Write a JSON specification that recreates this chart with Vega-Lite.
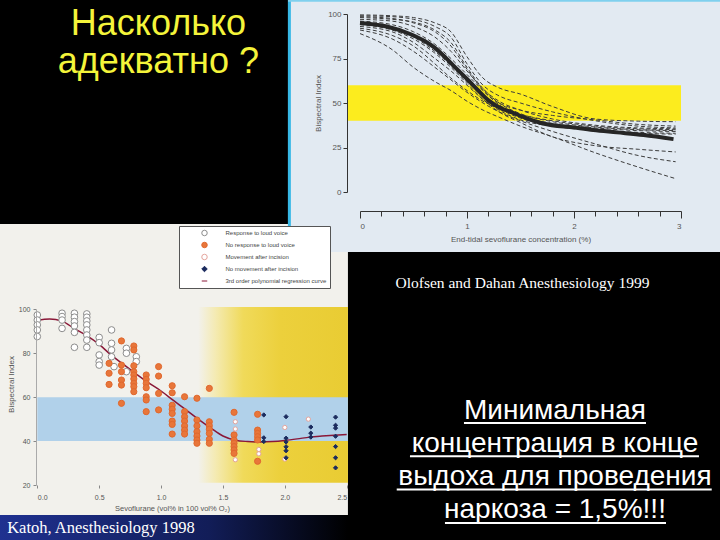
{
  "$schema": "https://vega.github.io/schema/vega-lite/v6.json",
  "width": 720,
  "height": 540,
  "autosize": {"type": "none"},
  "padding": 0,
  "background": "#000000",
  "config": {
    "view": {"stroke": null},
    "axis": {"labelFont": "Liberation Sans", "titleFont": "Liberation Sans", "grid": false, "titleFontWeight": "normal"}
  },
  "datasets": {
    "katoh_pts": [
      {"g": "Response to loud voice", "x": 0, "y": 97.4}, {"g": "Response to loud voice", "x": 0, "y": 95.1}, {"g": "Response to loud voice", "x": 0, "y": 92.9}, {"g": "Response to loud voice", "x": 0, "y": 90.6}, {"g": "Response to loud voice", "x": 0, "y": 87.6},
      {"g": "Response to loud voice", "x": 0.2, "y": 98.2}, {"g": "Response to loud voice", "x": 0.2, "y": 96.7}, {"g": "Response to loud voice", "x": 0.2, "y": 95.1}, {"g": "Response to loud voice", "x": 0.2, "y": 91.3},
      {"g": "Response to loud voice", "x": 0.3, "y": 98.2}, {"g": "Response to loud voice", "x": 0.3, "y": 96.4}, {"g": "Response to loud voice", "x": 0.3, "y": 94.4}, {"g": "Response to loud voice", "x": 0.3, "y": 92.4}, {"g": "Response to loud voice", "x": 0.3, "y": 89.5}, {"g": "Response to loud voice", "x": 0.3, "y": 82.7},
      {"g": "Response to loud voice", "x": 0.4, "y": 97.9}, {"g": "Response to loud voice", "x": 0.4, "y": 96.4}, {"g": "Response to loud voice", "x": 0.4, "y": 94.7}, {"g": "Response to loud voice", "x": 0.4, "y": 92.9}, {"g": "Response to loud voice", "x": 0.4, "y": 90.6}, {"g": "Response to loud voice", "x": 0.4, "y": 88.3}, {"g": "Response to loud voice", "x": 0.4, "y": 86.0}, {"g": "Response to loud voice", "x": 0.4, "y": 82.7},
      {"g": "Response to loud voice", "x": 0.5, "y": 87.2}, {"g": "Response to loud voice", "x": 0.5, "y": 84.8}, {"g": "Response to loud voice", "x": 0.5, "y": 79.2}, {"g": "Response to loud voice", "x": 0.5, "y": 76.2}, {"g": "Response to loud voice", "x": 0.5, "y": 74.6},
      {"g": "Response to loud voice", "x": 0.6, "y": 90.6}, {"g": "Response to loud voice", "x": 0.6, "y": 84.5}, {"g": "Response to loud voice", "x": 0.6, "y": 81.5}, {"g": "Response to loud voice", "x": 0.6, "y": 78.4}, {"g": "Response to loud voice", "x": 0.62, "y": 73.9},
      {"g": "Response to loud voice", "x": 0.72, "y": 82.2}, {"g": "Response to loud voice", "x": 0.72, "y": 80}, {"g": "Response to loud voice", "x": 0.72, "y": 71.6},
      {"g": "Response to loud voice", "x": 0.8, "y": 78.4}, {"g": "Response to loud voice", "x": 0.8, "y": 76.2},
      {"g": "No response to loud voice", "x": 0.58, "y": 75.4}, {"g": "No response to loud voice", "x": 0.58, "y": 70.9}, {"g": "No response to loud voice", "x": 0.58, "y": 65.8},
      {"g": "No response to loud voice", "x": 0.68, "y": 85.6}, {"g": "No response to loud voice", "x": 0.68, "y": 74.6}, {"g": "No response to loud voice", "x": 0.68, "y": 71.6}, {"g": "No response to loud voice", "x": 0.68, "y": 67.8}, {"g": "No response to loud voice", "x": 0.68, "y": 65.5}, {"g": "No response to loud voice", "x": 0.68, "y": 57.2},
      {"g": "No response to loud voice", "x": 0.78, "y": 83.3}, {"g": "No response to loud voice", "x": 0.78, "y": 81.5}, {"g": "No response to loud voice", "x": 0.78, "y": 74.3}, {"g": "No response to loud voice", "x": 0.78, "y": 71.6}, {"g": "No response to loud voice", "x": 0.78, "y": 70.1}, {"g": "No response to loud voice", "x": 0.78, "y": 68.3}, {"g": "No response to loud voice", "x": 0.78, "y": 66.3}, {"g": "No response to loud voice", "x": 0.78, "y": 64.8}, {"g": "No response to loud voice", "x": 0.78, "y": 62.5},
      {"g": "No response to loud voice", "x": 0.88, "y": 70.1}, {"g": "No response to loud voice", "x": 0.88, "y": 68.1}, {"g": "No response to loud voice", "x": 0.88, "y": 66.3}, {"g": "No response to loud voice", "x": 0.88, "y": 64.3}, {"g": "No response to loud voice", "x": 0.88, "y": 60.2}, {"g": "No response to loud voice", "x": 0.88, "y": 58.7}, {"g": "No response to loud voice", "x": 0.88, "y": 53.4},
      {"g": "No response to loud voice", "x": 0.98, "y": 73.9}, {"g": "No response to loud voice", "x": 0.98, "y": 69.6}, {"g": "No response to loud voice", "x": 0.98, "y": 61.7}, {"g": "No response to loud voice", "x": 0.98, "y": 54.2},
      {"g": "No response to loud voice", "x": 1.09, "y": 65.2}, {"g": "No response to loud voice", "x": 1.09, "y": 62.0}, {"g": "No response to loud voice", "x": 1.09, "y": 56.3}, {"g": "No response to loud voice", "x": 1.09, "y": 54.5}, {"g": "No response to loud voice", "x": 1.09, "y": 52.6}, {"g": "No response to loud voice", "x": 1.09, "y": 49.1}, {"g": "No response to loud voice", "x": 1.09, "y": 47.6}, {"g": "No response to loud voice", "x": 1.09, "y": 43.2},
      {"g": "No response to loud voice", "x": 1.19, "y": 60.2}, {"g": "No response to loud voice", "x": 1.19, "y": 53.4}, {"g": "No response to loud voice", "x": 1.19, "y": 51.1}, {"g": "No response to loud voice", "x": 1.19, "y": 49.1}, {"g": "No response to loud voice", "x": 1.19, "y": 46.9}, {"g": "No response to loud voice", "x": 1.19, "y": 45.0}, {"g": "No response to loud voice", "x": 1.19, "y": 43.2},
      {"g": "No response to loud voice", "x": 1.29, "y": 59.5}, {"g": "No response to loud voice", "x": 1.29, "y": 49.6}, {"g": "No response to loud voice", "x": 1.29, "y": 46.9}, {"g": "No response to loud voice", "x": 1.29, "y": 44.3}, {"g": "No response to loud voice", "x": 1.29, "y": 42.3}, {"g": "No response to loud voice", "x": 1.29, "y": 40.5}, {"g": "No response to loud voice", "x": 1.29, "y": 39.0},
      {"g": "No response to loud voice", "x": 1.39, "y": 64}, {"g": "No response to loud voice", "x": 1.39, "y": 48.8}, {"g": "No response to loud voice", "x": 1.39, "y": 47.0}, {"g": "No response to loud voice", "x": 1.39, "y": 45.4}, {"g": "No response to loud voice", "x": 1.39, "y": 43.5}, {"g": "No response to loud voice", "x": 1.39, "y": 40.8}, {"g": "No response to loud voice", "x": 1.39, "y": 39},
      {"g": "No response to loud voice", "x": 1.59, "y": 53.1}, {"g": "No response to loud voice", "x": 1.59, "y": 42.8}, {"g": "No response to loud voice", "x": 1.59, "y": 40.5}, {"g": "No response to loud voice", "x": 1.59, "y": 39}, {"g": "No response to loud voice", "x": 1.59, "y": 37.5}, {"g": "No response to loud voice", "x": 1.59, "y": 36.0}, {"g": "No response to loud voice", "x": 1.59, "y": 34.4},
      {"g": "No response to loud voice", "x": 1.78, "y": 52.2}, {"g": "No response to loud voice", "x": 1.78, "y": 45}, {"g": "No response to loud voice", "x": 1.78, "y": 43.5}, {"g": "No response to loud voice", "x": 1.78, "y": 42}, {"g": "No response to loud voice", "x": 1.78, "y": 40.5}, {"g": "No response to loud voice", "x": 1.78, "y": 30.8},
      {"g": "Movement after incision", "x": 1.6, "y": 48.8}, {"g": "Movement after incision", "x": 1.6, "y": 45.5}, {"g": "Movement after incision", "x": 1.6, "y": 31.5}, {"g": "Movement after incision", "x": 1.79, "y": 36.2}, {"g": "Movement after incision", "x": 1.79, "y": 34.2}, {"g": "Movement after incision", "x": 2.0, "y": 46.2}, {"g": "Movement after incision", "x": 2.0, "y": 31.8}, {"g": "Movement after incision", "x": 2.19, "y": 50.0},
      {"g": "No movement after incision", "x": 1.83, "y": 51.9}, {"g": "No movement after incision", "x": 1.83, "y": 41.5}, {"g": "No movement after incision", "x": 1.83, "y": 39.8},
      {"g": "No movement after incision", "x": 2.01, "y": 51.1}, {"g": "No movement after incision", "x": 2.01, "y": 41.3}, {"g": "No movement after incision", "x": 2.01, "y": 39.6}, {"g": "No movement after incision", "x": 2.01, "y": 37.4}, {"g": "No movement after incision", "x": 2.01, "y": 35.6}, {"g": "No movement after incision", "x": 2.01, "y": 32.4},
      {"g": "No movement after incision", "x": 2.21, "y": 46.4}, {"g": "No movement after incision", "x": 2.21, "y": 43.6}, {"g": "No movement after incision", "x": 2.21, "y": 41.8},
      {"g": "No movement after incision", "x": 2.41, "y": 50.9}, {"g": "No movement after incision", "x": 2.41, "y": 47.2}, {"g": "No movement after incision", "x": 2.41, "y": 45.9}, {"g": "No movement after incision", "x": 2.41, "y": 42.2}, {"g": "No movement after incision", "x": 2.41, "y": 37.5}, {"g": "No movement after incision", "x": 2.41, "y": 32.4}, {"g": "No movement after incision", "x": 2.41, "y": 27.8}
    ],
    "katoh_fit": [
      {"x": 0, "y": 95}, {"x": 0.1, "y": 95.6}, {"x": 0.2, "y": 94.6}, {"x": 0.3, "y": 91.2}, {"x": 0.4, "y": 88}, {"x": 0.5, "y": 84}, {"x": 0.6, "y": 79}, {"x": 0.7, "y": 74.8}, {"x": 0.8, "y": 70.5}, {"x": 0.9, "y": 66.5}, {"x": 1.0, "y": 62.8}, {"x": 1.1, "y": 58.5}, {"x": 1.2, "y": 54.3}, {"x": 1.3, "y": 50}, {"x": 1.4, "y": 46}, {"x": 1.5, "y": 42.3}, {"x": 1.6, "y": 40.4}, {"x": 1.7, "y": 39.8}, {"x": 1.8, "y": 39.6}, {"x": 1.9, "y": 39.8}, {"x": 2.0, "y": 40.3}, {"x": 2.1, "y": 41}, {"x": 2.2, "y": 41.8}, {"x": 2.3, "y": 42.3}, {"x": 2.4, "y": 42.7}, {"x": 2.5, "y": 43}
    ],
    "olof_mean": [
      {"x": 0, "y": 95}, {"x": 0.25, "y": 93}, {"x": 0.48, "y": 88.5}, {"x": 0.6, "y": 85}, {"x": 0.7, "y": 81}, {"x": 0.8, "y": 75.5}, {"x": 0.89, "y": 70}, {"x": 1.0, "y": 63.5}, {"x": 1.1, "y": 57.3}, {"x": 1.2, "y": 51.5}, {"x": 1.32, "y": 47}, {"x": 1.4, "y": 45.2}, {"x": 1.54, "y": 41.8}, {"x": 1.71, "y": 38.5}, {"x": 2.0, "y": 36.2}, {"x": 2.18, "y": 34.8}, {"x": 2.4, "y": 33.5}, {"x": 2.65, "y": 32}, {"x": 2.93, "y": 29.7}
    ],
    "olof_ind": [
      {"id": 1, "x": 0, "y": 99.5}, {"id": 1, "x": 0.3, "y": 99}, {"id": 1, "x": 0.5, "y": 98}, {"id": 1, "x": 0.7, "y": 95}, {"id": 1, "x": 0.85, "y": 90}, {"id": 1, "x": 1.0, "y": 76}, {"id": 1, "x": 1.15, "y": 64}, {"id": 1, "x": 1.3, "y": 58.5}, {"id": 1, "x": 1.5, "y": 55}, {"id": 1, "x": 1.8, "y": 48}, {"id": 1, "x": 2.2, "y": 41}, {"id": 1, "x": 2.6, "y": 39.8}, {"id": 1, "x": 2.95, "y": 39.5},
      {"id": 2, "x": 0, "y": 99}, {"id": 2, "x": 0.3, "y": 98.5}, {"id": 2, "x": 0.5, "y": 97}, {"id": 2, "x": 0.7, "y": 93}, {"id": 2, "x": 0.85, "y": 87}, {"id": 2, "x": 1.0, "y": 72}, {"id": 2, "x": 1.15, "y": 60}, {"id": 2, "x": 1.3, "y": 54}, {"id": 2, "x": 1.5, "y": 50}, {"id": 2, "x": 1.8, "y": 45}, {"id": 2, "x": 2.2, "y": 40}, {"id": 2, "x": 2.6, "y": 37}, {"id": 2, "x": 2.95, "y": 36},
      {"id": 3, "x": 0, "y": 98}, {"id": 3, "x": 0.3, "y": 97}, {"id": 3, "x": 0.5, "y": 95.5}, {"id": 3, "x": 0.7, "y": 91}, {"id": 3, "x": 0.85, "y": 84}, {"id": 3, "x": 1.0, "y": 70}, {"id": 3, "x": 1.15, "y": 58}, {"id": 3, "x": 1.3, "y": 51}, {"id": 3, "x": 1.5, "y": 46}, {"id": 3, "x": 1.8, "y": 41}, {"id": 3, "x": 2.2, "y": 37.5}, {"id": 3, "x": 2.6, "y": 36}, {"id": 3, "x": 2.95, "y": 35.5},
      {"id": 4, "x": 0, "y": 97}, {"id": 4, "x": 0.3, "y": 96}, {"id": 4, "x": 0.5, "y": 93}, {"id": 4, "x": 0.7, "y": 87}, {"id": 4, "x": 0.85, "y": 79}, {"id": 4, "x": 1.0, "y": 68}, {"id": 4, "x": 1.15, "y": 58}, {"id": 4, "x": 1.3, "y": 50}, {"id": 4, "x": 1.5, "y": 44}, {"id": 4, "x": 1.8, "y": 39.5}, {"id": 4, "x": 2.2, "y": 36.5}, {"id": 4, "x": 2.6, "y": 35}, {"id": 4, "x": 2.95, "y": 34.5},
      {"id": 5, "x": 0, "y": 96}, {"id": 5, "x": 0.3, "y": 94}, {"id": 5, "x": 0.5, "y": 90}, {"id": 5, "x": 0.7, "y": 83}, {"id": 5, "x": 0.85, "y": 75}, {"id": 5, "x": 1.0, "y": 66}, {"id": 5, "x": 1.15, "y": 57}, {"id": 5, "x": 1.3, "y": 49}, {"id": 5, "x": 1.5, "y": 43}, {"id": 5, "x": 1.8, "y": 38.5}, {"id": 5, "x": 2.2, "y": 36}, {"id": 5, "x": 2.6, "y": 34.5}, {"id": 5, "x": 2.95, "y": 34},
      {"id": 6, "x": 0, "y": 95}, {"id": 6, "x": 0.3, "y": 92}, {"id": 6, "x": 0.5, "y": 87}, {"id": 6, "x": 0.7, "y": 79}, {"id": 6, "x": 0.85, "y": 71}, {"id": 6, "x": 1.0, "y": 62}, {"id": 6, "x": 1.15, "y": 54}, {"id": 6, "x": 1.3, "y": 47}, {"id": 6, "x": 1.5, "y": 41.5}, {"id": 6, "x": 1.8, "y": 37.5}, {"id": 6, "x": 2.2, "y": 35}, {"id": 6, "x": 2.6, "y": 33.5}, {"id": 6, "x": 2.95, "y": 33},
      {"id": 7, "x": 0, "y": 93}, {"id": 7, "x": 0.3, "y": 90}, {"id": 7, "x": 0.5, "y": 84}, {"id": 7, "x": 0.7, "y": 75}, {"id": 7, "x": 0.85, "y": 68}, {"id": 7, "x": 1.0, "y": 60}, {"id": 7, "x": 1.15, "y": 52}, {"id": 7, "x": 1.3, "y": 46}, {"id": 7, "x": 1.5, "y": 40.5}, {"id": 7, "x": 1.8, "y": 37}, {"id": 7, "x": 2.2, "y": 34.5}, {"id": 7, "x": 2.6, "y": 33}, {"id": 7, "x": 2.95, "y": 32.5},
      {"id": 8, "x": 0, "y": 89}, {"id": 8, "x": 0.3, "y": 80}, {"id": 8, "x": 0.5, "y": 70}, {"id": 8, "x": 0.7, "y": 62}, {"id": 8, "x": 0.85, "y": 57}, {"id": 8, "x": 1.0, "y": 51}, {"id": 8, "x": 1.15, "y": 46}, {"id": 8, "x": 1.3, "y": 42}, {"id": 8, "x": 1.5, "y": 37}, {"id": 8, "x": 1.8, "y": 31}, {"id": 8, "x": 2.2, "y": 22}, {"id": 8, "x": 2.6, "y": 14}, {"id": 8, "x": 2.95, "y": 7.5},
      {"id": 9, "x": 0, "y": 91}, {"id": 9, "x": 0.3, "y": 86}, {"id": 9, "x": 0.5, "y": 79}, {"id": 9, "x": 0.7, "y": 70}, {"id": 9, "x": 0.85, "y": 63}, {"id": 9, "x": 1.0, "y": 56}, {"id": 9, "x": 1.15, "y": 50}, {"id": 9, "x": 1.3, "y": 45}, {"id": 9, "x": 1.5, "y": 40}, {"id": 9, "x": 1.8, "y": 34}, {"id": 9, "x": 2.2, "y": 27}, {"id": 9, "x": 2.6, "y": 20.5}, {"id": 9, "x": 2.95, "y": 17},
      {"id": 10, "x": 0, "y": 94}, {"id": 10, "x": 0.3, "y": 91}, {"id": 10, "x": 0.5, "y": 86}, {"id": 10, "x": 0.7, "y": 78}, {"id": 10, "x": 0.85, "y": 70}, {"id": 10, "x": 1.0, "y": 61}, {"id": 10, "x": 1.15, "y": 52}, {"id": 10, "x": 1.3, "y": 45}, {"id": 10, "x": 1.5, "y": 39}, {"id": 10, "x": 1.8, "y": 31}, {"id": 10, "x": 2.2, "y": 26}, {"id": 10, "x": 2.6, "y": 24}, {"id": 10, "x": 2.95, "y": 22.5},
      {"id": 11, "x": 0, "y": 98.5}, {"id": 11, "x": 0.3, "y": 97.5}, {"id": 11, "x": 0.5, "y": 95}, {"id": 11, "x": 0.7, "y": 90}, {"id": 11, "x": 0.85, "y": 82}, {"id": 11, "x": 1.0, "y": 69}, {"id": 11, "x": 1.15, "y": 57}, {"id": 11, "x": 1.3, "y": 50}, {"id": 11, "x": 1.5, "y": 46}, {"id": 11, "x": 1.8, "y": 43}, {"id": 11, "x": 2.2, "y": 40.5}, {"id": 11, "x": 2.6, "y": 38}, {"id": 11, "x": 2.95, "y": 37},
      {"id": 12, "x": 0, "y": 92}, {"id": 12, "x": 0.3, "y": 88}, {"id": 12, "x": 0.5, "y": 82}, {"id": 12, "x": 0.7, "y": 72}, {"id": 12, "x": 0.85, "y": 64}, {"id": 12, "x": 1.0, "y": 57}, {"id": 12, "x": 1.15, "y": 51}, {"id": 12, "x": 1.3, "y": 47}, {"id": 12, "x": 1.5, "y": 43.5}, {"id": 12, "x": 1.8, "y": 40}, {"id": 12, "x": 2.2, "y": 37}, {"id": 12, "x": 2.6, "y": 35.5}, {"id": 12, "x": 2.95, "y": 35}
    ]
  },
  "layer": [
    {
      "layer": [
        {
          "data": {"values": [{}]},
          "mark": {"type": "rect", "fill": "#f2f1ec"},
          "encoding": {
            "x": {"datum": -0.302, "type": "quantitative", "scale": {"domain": [0, 2.5], "range": [37.3, 346.7], "nice": false, "zero": false}},
            "x2": {"datum": 2.51},
            "y": {"datum": 138.8, "type": "quantitative", "scale": {"domain": [20, 100], "range": [485, 309.3], "nice": false, "zero": false}},
            "y2": {"datum": 6.34}
          }
        },
        {
          "data": {"values": [{}]},
          "mark": {"type": "rect", "fill": {"gradient": "linear", "x1": 0, "y1": 0, "x2": 1, "y2": 0, "stops": [{"offset": 0, "color": "#1f3190"}, {"offset": 0.6, "color": "#121d58"}, {"offset": 1, "color": "#000000"}]}},
          "encoding": {
            "x": {"datum": -0.302, "type": "quantitative"},
            "x2": {"datum": 2.51},
            "y": {"datum": 6.34, "type": "quantitative"},
            "y2": {"datum": -5.1}
          }
        },
        {
          "data": {"values": [{}]},
          "mark": {"type": "rect", "fill": {"gradient": "linear", "x1": 0, "y1": 0, "x2": 1, "y2": 0, "stops": [{"offset": 0, "color": "#f2f1ec"}, {"offset": 0.12, "color": "#f4eab0"}, {"offset": 0.3, "color": "#f0da5a"}, {"offset": 0.55, "color": "#ecd03c"}, {"offset": 1, "color": "#e9cc33"}]}},
          "encoding": {
            "x": {"datum": 1.3, "type": "quantitative"},
            "x2": {"datum": 2.51},
            "y": {"datum": 101, "type": "quantitative"},
            "y2": {"datum": 21}
          }
        },
        {
          "data": {"values": [{}]},
          "mark": {"type": "rect", "fill": "#b1d1ea"},
          "encoding": {
            "x": {"datum": 0, "type": "quantitative"},
            "x2": {"datum": 2.51},
            "y": {"datum": 60, "type": "quantitative"},
            "y2": {"datum": 40}
          }
        },
        {
          "data": {"name": "katoh_fit"},
          "mark": {"type": "line", "stroke": "#8a1838", "strokeWidth": 1.5, "interpolate": "monotone"},
          "encoding": {
            "x": {"field": "x", "type": "quantitative"},
            "y": {"field": "y", "type": "quantitative"}
          }
        },
        {
          "data": {"name": "katoh_pts"},
          "mark": {"type": "point", "strokeWidth": 1, "opacity": 1},
          "encoding": {
            "x": {"field": "x", "type": "quantitative", "axis": {"orient": "bottom", "offset": -55, "values": [0, 0.5, 1, 1.5, 2, 2.5], "format": ".1f", "domain": false, "tickSize": 3, "tickColor": "#888", "labelFontSize": 7, "labelColor": "#555", "labelPadding": 5, "title": "Sevoflurane (vol% in 100 vol% O₂)", "titleFontSize": 7.5, "titleColor": "#555", "titlePadding": 4, "titleX": 172, "zindex": 1}},
            "y": {"field": "y", "type": "quantitative", "axis": {"orient": "left", "offset": -36, "values": [20, 40, 60, 80, 100], "domainColor": "#aaaaaa", "tickSize": 3, "tickColor": "#888", "labelFontSize": 7, "labelColor": "#555", "labelPadding": 3, "title": "Bispectral Index", "titleFontSize": 8, "titleColor": "#555", "titlePadding": 3, "titleY": 384, "zindex": 1}},
            "shape": {"field": "g", "type": "nominal",
              "scale": {"domain": ["Response to loud voice", "No response to loud voice", "Movement after incision", "No movement after incision", "3rd order polynomial regression curve"], "range": ["circle", "circle", "circle", "diamond", "stroke"]},
              "legend": {"title": null, "orient": "none", "legendX": 179, "legendY": 226, "padding": 3, "fillColor": "#ffffff", "strokeColor": "#555555", "labelFontSize": 6, "labelColor": "#444", "labelFont": "Liberation Sans", "labelLimit": 250, "symbolSize": 30, "rowPadding": 4, "clipHeight": 8, "labelOffset": 17.5, "symbolOffset": 19, "symbolStrokeWidth": 1}},
            "fill": {"field": "g", "type": "nominal",
              "scale": {"domain": ["Response to loud voice", "No response to loud voice", "Movement after incision", "No movement after incision", "3rd order polynomial regression curve"], "range": ["#ffffff", "#e8763a", "#ffffff", "#1b2b5e", "transparent"]},
              "legend": {"title": null, "orient": "none", "legendX": 179, "legendY": 226, "padding": 3, "fillColor": "#ffffff", "strokeColor": "#555555", "labelFontSize": 6, "labelColor": "#444", "labelFont": "Liberation Sans", "labelLimit": 250, "symbolSize": 30, "rowPadding": 4, "clipHeight": 8, "labelOffset": 17.5, "symbolOffset": 19, "symbolStrokeWidth": 1}},
            "stroke": {"field": "g", "type": "nominal",
              "scale": {"domain": ["Response to loud voice", "No response to loud voice", "Movement after incision", "No movement after incision", "3rd order polynomial regression curve"], "range": ["#8c8c8c", "#e0682e", "#e4a49c", "#1b2b5e", "#8a1838"]},
              "legend": {"title": null, "orient": "none", "legendX": 179, "legendY": 226, "padding": 3, "fillColor": "#ffffff", "strokeColor": "#555555", "labelFontSize": 6, "labelColor": "#444", "labelFont": "Liberation Sans", "labelLimit": 250, "symbolSize": 30, "rowPadding": 4, "clipHeight": 8, "labelOffset": 17.5, "symbolOffset": 19, "symbolStrokeWidth": 1}},
            "size": {"condition": [{"test": "datum.g === 'Response to loud voice'", "value": 44}, {"test": "datum.g === 'No response to loud voice'", "value": 38}], "value": 18}
          }
        }
      ]
    },
    {
      "layer": [
        {
          "data": {"values": [{}]},
          "mark": {"type": "rect", "fill": "#e2eaf2"},
          "encoding": {
            "x": {"datum": -0.673, "type": "quantitative", "scale": {"domain": [0, 3], "range": [360, 681], "nice": false, "zero": false}},
            "x2": {"datum": 3.4},
            "y": {"datum": 108, "type": "quantitative", "scale": {"domain": [0, 100], "range": [192, 14], "nice": false, "zero": false}},
            "y2": {"datum": -33.7}
          }
        },
        {
          "data": {"values": [{}]},
          "mark": {"type": "rule", "stroke": "#38b8e6", "strokeWidth": 3},
          "encoding": {
            "x": {"datum": -0.66, "type": "quantitative"},
            "y": {"datum": 108, "type": "quantitative"},
            "y2": {"datum": -33.7}
          }
        },
        {
          "data": {"values": [{}]},
          "mark": {"type": "rule", "stroke": "#7fd0ee", "strokeWidth": 2},
          "encoding": {
            "x": {"datum": -0.673, "type": "quantitative"},
            "x2": {"datum": 3.4},
            "y": {"datum": 107.4, "type": "quantitative"}
          }
        },
        {
          "data": {"values": [{}]},
          "mark": {"type": "rect", "fill": "#fcec1e"},
          "encoding": {
            "x": {"datum": -0.121, "type": "quantitative"},
            "x2": {"datum": 3.0},
            "y": {"datum": 60, "type": "quantitative"},
            "y2": {"datum": 40}
          }
        },
        {
          "data": {"name": "olof_ind"},
          "mark": {"type": "line", "stroke": "#3c3c3c", "strokeWidth": 1, "strokeDash": [4, 2.5], "interpolate": "monotone"},
          "encoding": {
            "x": {"field": "x", "type": "quantitative"},
            "y": {"field": "y", "type": "quantitative"},
            "detail": {"field": "id", "type": "nominal"}
          }
        },
        {
          "data": {"name": "olof_mean"},
          "mark": {"type": "line", "stroke": "#262626", "strokeWidth": 4, "interpolate": "monotone"},
          "encoding": {
            "x": {"field": "x", "type": "quantitative", "axis": {"orient": "bottom", "offset": -329, "values": [0, 0.2, 0.4, 0.6, 0.8, 1, 1.2, 1.4, 1.6, 1.8, 2, 2.2, 2.4, 2.6, 2.8, 3], "labelExpr": "datum.value % 1 === 0 ? format(datum.value, 'd') : ''", "domainColor": "#333", "tickColor": "#333", "tickSize": {"condition": {"test": "datum.value % 1 === 0", "value": 7}, "value": 5}, "labelFontSize": 8, "labelColor": "#555", "labelPadding": 4, "title": "End-tidal sevoflurane concentration (%)", "titleFontSize": 8, "titleColor": "#555", "titlePadding": 5, "zindex": 1}},
            "y": {"field": "y", "type": "quantitative", "axis": {"orient": "left", "offset": -347, "values": [0, 25, 50, 75, 100], "domainColor": "#333", "tickColor": "#333", "tickSize": 4, "labelFontSize": 8, "labelColor": "#555", "labelPadding": 2, "title": "Bispectral Index", "titleFontSize": 8, "titleColor": "#555", "titlePadding": 5, "zindex": 1}}
          }
        }
      ]
    },
    {
      "layer": [
        {
          "data": {"values": [{}]},
          "mark": {"type": "text", "font": "Liberation Sans", "fontSize": 36, "fill": "#f4f43a", "align": "center", "baseline": "alphabetic", "lineHeight": 38},
          "encoding": {
            "x": {"datum": 22.0, "type": "quantitative", "scale": {"domain": [0, 100], "range": [0, 720], "nice": false, "zero": false}, "axis": null},
            "y": {"datum": 6.4, "type": "quantitative", "scale": {"domain": [0, 100], "range": [0, 540], "nice": false, "zero": false}, "axis": null},
            "text": {"value": ["Насколько", "адекватно ?"]}
          }
        },
        {
          "data": {"values": [{}]},
          "mark": {"type": "text", "font": "Liberation Serif", "fontSize": 15.5, "fill": "#ffffff", "align": "center", "baseline": "alphabetic"},
          "encoding": {
            "x": {"datum": 72.57, "type": "quantitative", "axis": null},
            "y": {"datum": 53.33, "type": "quantitative", "axis": null},
            "text": {"value": "Olofsen and Dahan Anesthesiology 1999"}
          }
        },
        {
          "data": {"values": [{}]},
          "mark": {"type": "text", "font": "Liberation Serif", "fontSize": 16.5, "fill": "#ffffff", "align": "left", "baseline": "alphabetic"},
          "encoding": {
            "x": {"datum": 1.0, "type": "quantitative", "axis": null},
            "y": {"datum": 98.75, "type": "quantitative", "axis": null},
            "text": {"value": "Katoh, Anesthesiology 1998"}
          }
        },
        {
          "data": {"values": [{}]},
          "mark": {"type": "text", "font": "Liberation Sans", "fontSize": 28, "fill": "#ffffff", "align": "center", "baseline": "alphabetic", "lineHeight": 33.3},
          "encoding": {
            "x": {"datum": 77.08, "type": "quantitative", "axis": null},
            "y": {"datum": 77.5, "type": "quantitative", "axis": null},
            "text": {"value": ["Минимальная", "концентрация в конце", "выдоха для проведения", "наркоза = 1,5%!!!"]}
          }
        },
        {
          "data": {"values": [{}]},
          "mark": {"type": "rule", "stroke": "#ffffff", "strokeWidth": 2},
          "encoding": {"x": {"datum": 64.44, "type": "quantitative", "axis": null}, "x2": {"datum": 89.72}, "y": {"datum": 78.33, "type": "quantitative", "axis": null}}
        },
        {
          "data": {"values": [{}]},
          "mark": {"type": "rule", "stroke": "#ffffff", "strokeWidth": 2},
          "encoding": {"x": {"datum": 56.94, "type": "quantitative", "axis": null}, "x2": {"datum": 97.08}, "y": {"datum": 84.5, "type": "quantitative", "axis": null}}
        },
        {
          "data": {"values": [{}]},
          "mark": {"type": "rule", "stroke": "#ffffff", "strokeWidth": 2},
          "encoding": {"x": {"datum": 55.1, "type": "quantitative", "axis": null}, "x2": {"datum": 98.85}, "y": {"datum": 90.67, "type": "quantitative", "axis": null}}
        },
        {
          "data": {"values": [{}]},
          "mark": {"type": "rule", "stroke": "#ffffff", "strokeWidth": 2},
          "encoding": {"x": {"datum": 61.8, "type": "quantitative", "axis": null}, "x2": {"datum": 92.5}, "y": {"datum": 96.85, "type": "quantitative", "axis": null}}
        }
      ]
    }
  ],
  "resolve": {"scale": {"x": "independent", "y": "independent"}}
}
